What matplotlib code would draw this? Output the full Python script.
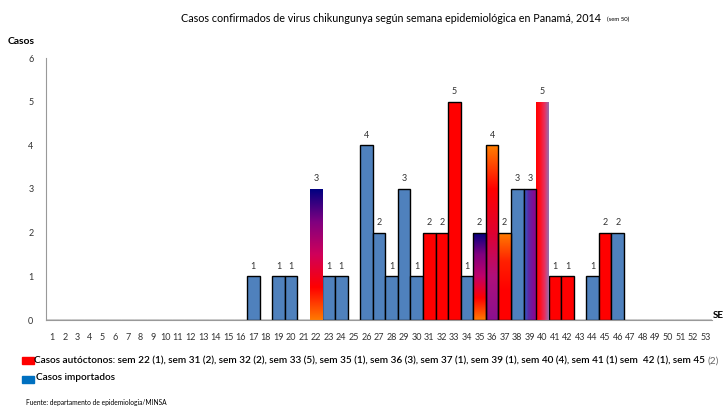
import numpy as np
import matplotlib
matplotlib.use("Agg")
import matplotlib.pyplot as plt
from matplotlib.colors import LinearSegmentedColormap

plt.rcParams['font.family'] = ['Lato', 'DejaVu Sans']

# semanas epidemiologicas 1..53
semanas = list(range(1, 54))
casos_total = {17: 1, 19: 1, 20: 1, 22: 3, 23: 1, 24: 1, 26: 4, 27: 2, 28: 1,
               29: 3, 30: 1, 31: 2, 32: 2, 33: 5, 34: 1, 35: 2, 36: 4, 37: 2,
               38: 3, 39: 3, 40: 5, 41: 1, 42: 1, 44: 1, 45: 2, 46: 2}
casos_autoctonos = {22: 1, 31: 2, 32: 2, 33: 5, 35: 1, 36: 3, 37: 1, 39: 1,
                    40: 4, 41: 1, 42: 1, 45: 2}

totales = [casos_total.get(s, 0) for s in semanas]
autoc = [casos_autoctonos.get(s, 0) for s in semanas]
importados = [t - a for t, a in zip(totales, autoc)]

titulo = "Casos confirmados de virus chikungunya según semana epidemiológica en Panamá, 2014"
leyenda_aut = ("Casos autóctonos: sem 22 (1), sem 31 (2), sem 32 (2), sem 33 (5), sem 35 (1), "
               "sem 36 (3), sem 37 (1), sem 39 (1), sem 40 (4), sem 41 (1) sem  42 (1), sem 45")

AZUL = '#4F81BD'
ROJO = '#FF0000'

# rellenos degradados de las barras mixtas (direccion, colores de abajo/izq a arriba/der)
degradados = {
    22: ('v', ['#FF7A00', '#FF0000', '#D0005A', '#800080', '#000080']),
    35: ('v', ['#FF7A00', '#FF0000', '#C0006A', '#800080', '#000080']),
    36: ('v', ['#8A1090', '#B0107A', '#E00030', '#FF0000', '#FF8000']),
    37: ('v', ['#FF0000', '#FF0000', '#FF2000', '#FF8000']),
    39: ('h', ['#2868C8', '#5A2AA8', '#7A109A', '#9A0080']),
    40: ('h', ['#FF0000', '#FF1020', '#E83060', '#9070B0']),
}

fig = plt.figure(figsize=(7.28, 4.08), dpi=100)
ax = fig.add_axes([46 / 728, 1 - 320 / 408, (712 - 46) / 728, (320 - 58) / 408])

colores = []
for t, a in zip(totales, autoc):
    colores.append(ROJO if (a == t and t > 0) else AZUL)

bars = ax.bar(semanas, totales, width=1.0, color=colores, edgecolor='black',
              linewidth=1.0, zorder=2)

for s, b in zip(semanas, bars):
    if s in degradados:
        d, cols = degradados[s]
        cmap = LinearSegmentedColormap.from_list('g%d' % s, cols)
        if d == 'v':
            grad = np.linspace(0, 1, 256).reshape(-1, 1)
        else:
            grad = np.linspace(0, 1, 256).reshape(1, -1)
        x0 = b.get_x()
        h = b.get_height()
        im = ax.imshow(grad, cmap=cmap, aspect='auto', origin='lower',
                       extent=[x0, x0 + b.get_width(), 0, h], zorder=2.5)
        im.set_clip_path(b)
        if s in (22, 40):
            b.set_edgecolor('none')
        b.set_zorder(3)
        b.set_facecolor('none')

etiquetas = [str(t) if t > 0 else '' for t in totales]
ax.bar_label(bars, labels=etiquetas, padding=4, fontsize=6.5, color='#333333')

ax.set_xlim(0.5, 53.5)
ax.set_ylim(0, 6)
ax.set_xticks(semanas)
ax.set_xticklabels([str(s) for s in semanas], fontsize=6.5, color='#333333')
ax.set_yticks(range(0, 7))
ax.set_yticklabels([str(i) for i in range(0, 7)], fontsize=6.5, color='#333333')
ax.tick_params(axis='y', length=0, pad=9)
ax.tick_params(axis='x', length=0, pad=9)
ax.spines['top'].set_visible(False)
ax.spines['right'].set_visible(False)
ax.spines['left'].set_color('#999999')
ax.spines['bottom'].set_color('#999999')

renderer = fig.canvas.get_renderer()


def ajustar(txt, ancho_px):
    # encoge el texto hasta que ocupe el ancho de la referencia
    w = txt.get_window_extent(renderer).width
    txt.set_fontsize(txt.get_fontsize() * ancho_px / w)


tt = fig.text(181 / 728, 1 - 18 / 408, titulo, ha='left', va='center', fontsize=7.5)
ajustar(tt, 416)
x_t = tt.get_window_extent(renderer).x1 + 6
fig.text(x_t / 728, 1 - 19 / 408, '(sem 50)', ha='left', va='center', fontsize=4.3)
fig.text(8 / 728, 1 - 42 / 408, 'Casos', ha='left', va='center', fontsize=7.5, fontweight='bold')
fig.text(713 / 728, 1 - 315 / 408, 'SE', ha='left', va='center', fontsize=7, fontweight='bold')

# leyenda manual
fig.patches.append(plt.Rectangle((22 / 728, 1 - 364 / 408), 12 / 728, 7 / 408,
                                 transform=fig.transFigure, color=ROJO))
fig.patches.append(plt.Rectangle((22 / 728, 1 - 383 / 408), 12 / 728, 7 / 408,
                                 transform=fig.transFigure, color='#0070C0'))
t1 = fig.text(34 / 728, 1 - 361 / 408, leyenda_aut, ha='left', va='center', fontsize=8,
              fontweight='semibold')
ajustar(t1, 672)
t2 = fig.text(36 / 728, 1 - 378 / 408, 'Casos importados', ha='left', va='center',
              fontsize=t1.get_fontsize(), fontweight='semibold')
x_fin = t1.get_window_extent(renderer).x1 + 3
fig.text(x_fin / 728, 1 - 361 / 408, '(2)', ha='left', va='center',
         fontsize=t1.get_fontsize(), color='#666666')
fig.text(26 / 728, 1 - 403 / 408, 'Fuente: departamento de epidemiologia/MINSA',
         ha='left', va='center', fontsize=4.8)

fig.savefig('out.png', dpi=100)
